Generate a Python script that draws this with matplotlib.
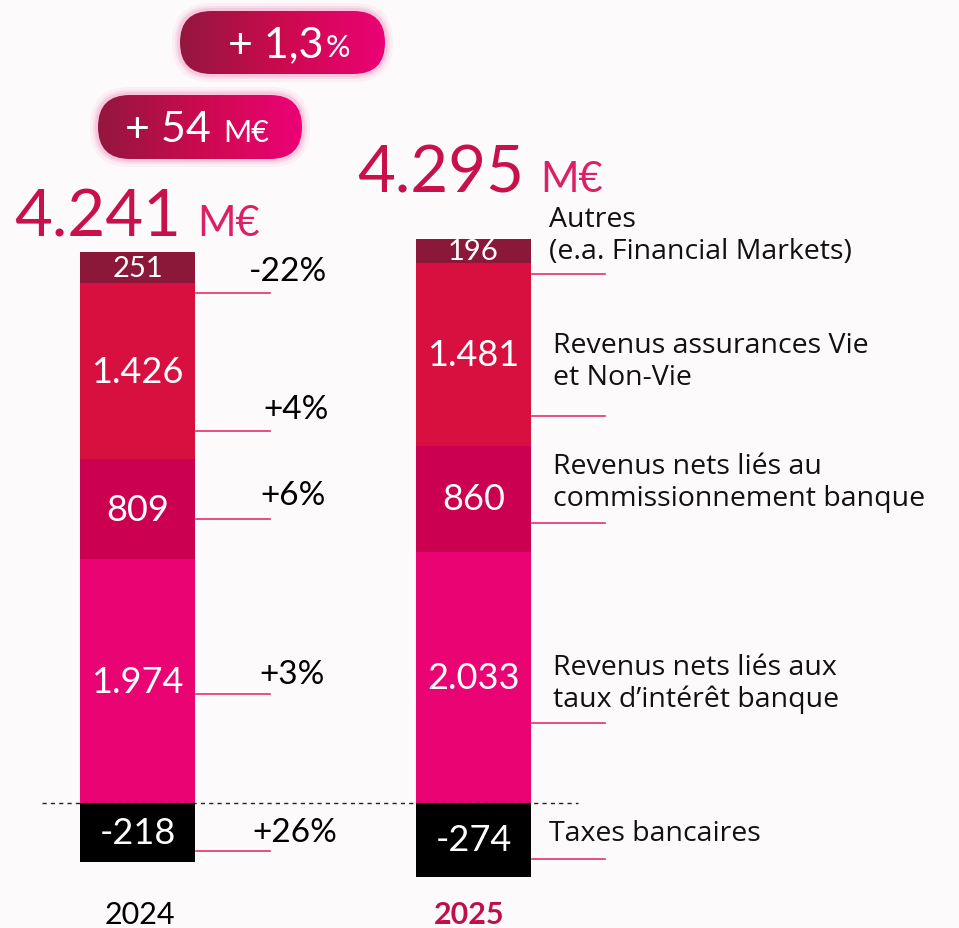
import numpy as np
import matplotlib
matplotlib.use('Agg')
import matplotlib.pyplot as plt
from matplotlib.patches import FancyBboxPatch

# data
years = ['2024', '2025']
# labels in stacking order (bottom to top)
segments = ["Revenus nets liés aux\ntaux d’intérêt banque",
            'Revenus nets liés au\ncommissionnement banque',
            'Revenus assurances Vie\net Non-Vie',
            'Autres\n(e.a. Financial Markets)']
interest = [1974, 2033]
commission = [809, 860]
insurance = [1426, 1481]
others = [251, 196]
bank_tax = [-218, -274]
totals = ['4.241', '4.295']
growth = ['+3%', '+6%', '+4%', '-22%']   # same order as stacking
tax_growth = '+26%'
tax_label = 'Taxes bancaires'
delta_abs = '+ 54'
delta_pct = '+ 1,3'

colors = ['#ea0473', '#cc0050', '#d81040', '#8b1838']
value_sizes = [26, 26, 26, 21]
BG = '#fcfafb'
LINE = '#e2306f'
FONT = 'Lato'
LABEL_FONT = 'Open Sans'

plt.rcParams['font.family'] = [FONT, 'DejaVu Sans']

W, H = 959, 929
fig = plt.figure(figsize=(W / 100, H / 100), dpi=100, facecolor=BG)

# layout (pixels)
x_bars = [137.5, 473.5]
bar_w = 115
zero_px = 804
top_px = 200
scale_pos = 0.1235     # px per unit for the revenues
bot_px = 890
scale_neg = 0.27       # px per unit for the bank tax block

ax = fig.add_axes([0, (H - zero_px) / H, 1, (zero_px - top_px) / H])
ax.set_xlim(0, W)
ax.set_ylim(0, (zero_px - top_px) / scale_pos)
ax.axis('off')

axn = fig.add_axes([0, (H - bot_px) / H, 1, (bot_px - zero_px) / H])
axn.set_xlim(0, W)
axn.set_ylim(-(bot_px - zero_px) / scale_neg, 0)
axn.axis('off')

stack = [interest, commission, insurance, others]
bottom = np.zeros(2)
for vals, col, fs in zip(stack, colors, value_sizes):
    v = np.array(vals, dtype=float)
    ax.bar(x_bars, v, width=bar_w, bottom=bottom, color=col, linewidth=0)
    for xi, b, val in zip(x_bars, bottom, v):
        txt = f'{int(val):,}'.replace(',', '.')
        ax.text(xi, b + val / 2, txt, ha='center', va='center', color='white',
                fontsize=fs)
    bottom += v

axn.bar(x_bars, bank_tax, width=bar_w, color='black', linewidth=0)
for xi, val in zip(x_bars, bank_tax):
    axn.text(xi, val / 2, str(val), ha='center', va='center', color='white',
             fontsize=26)
ax.plot([42, 578], [0, 0], color='#222222', lw=1, ls=(0, (3, 3)), zorder=5,
        clip_on=False)

# overlay in pixel coordinates
ov = fig.add_axes([0, 0, 1, 1], facecolor='none')
ov.set_xlim(0, W)
ov.set_ylim(H, 0)
ov.axis('off')

# connector lines + growth / labels
lines_2024 = [695, 520, 432, 294]
lines_2025 = [724, 524, 417, 275]
pct_pos = [(292, 675), (293, 496), (296, 410), (288, 272)]
lab_pos = [684, 483, 362, 236]
lab_x = [553, 553, 553, 549]
for y1, y2, (px, py), g, ly, lx, lab in zip(lines_2024, lines_2025, pct_pos,
                                            growth, lab_pos, lab_x, segments):
    ov.plot([196, 270], [y1, y1], color=LINE, lw=1.2)
    ov.plot([532, 605], [y2, y2], color=LINE, lw=1.2)
    ov.text(px, py, g, ha='center', va='center', fontsize=24, color='black')
    ov.text(lx, ly, lab, ha='left', va='center', fontsize=20.5,
            color='#111111', linespacing=1.15, family=[LABEL_FONT, 'DejaVu Sans'])
ov.plot([196, 270], [852, 852], color=LINE, lw=1.2)
ov.plot([532, 605], [860, 860], color=LINE, lw=1.2)
ov.text(295, 833, tax_growth, ha='center', va='center', fontsize=24)
ov.text(549, 834, tax_label, ha='left', va='center', fontsize=20.5,
        color='#111111', family=[LABEL_FONT, 'DejaVu Sans'])

fig.canvas.draw()
renderer = fig.canvas.get_renderer()


def run_text(x, y, parts, **kw):
    # write text pieces one after another on the same baseline
    inv = ov.transData.inverted()
    for s, size, gap, color in parts:
        t = ov.text(x + gap, y, s, ha='left', va='baseline', fontsize=size,
                    color=color, **kw)
        bb = t.get_window_extent(renderer)
        x = inv.transform((bb.x1, bb.y0))[0]


# totals
tot_pos = [(14, 236), (357, 192)]
for (x0, yb), t in zip(tot_pos, totals):
    run_text(x0, yb, [(t, 47, 0, '#c8104a'), ('M€', 30, 16, '#dc2068')])

# years
ov.text(140, 924, years[0], ha='center', va='baseline', fontsize=22,
        color='black')
ov.text(469, 924, years[1], ha='center', va='baseline', fontsize=22,
        color='#c0104a', fontweight='bold')

# pills with gradient
grad = np.linspace(0, 1, 256).reshape(1, -1)
cmap = matplotlib.colors.LinearSegmentedColormap.from_list(
    'pill', ['#93173f', '#cc0a4e', '#ec0276'])


def pill(x0, y0, w, h):
    for k, a in [(8, 0.08), (5, 0.12), (3, 0.18)]:
        ov.add_patch(FancyBboxPatch((x0 - k, y0 - k), w + 2 * k, h + 2 * k,
                                    boxstyle=f'round,pad=0,rounding_size={h / 2 + k}',
                                    fc='#f06aa6', ec='none', alpha=a))
    p = FancyBboxPatch((x0, y0), w, h,
                       boxstyle=f'round,pad=0,rounding_size={h / 2}',
                       fc='none', ec='none')
    ov.add_patch(p)
    im = ov.imshow(grad, cmap=cmap, extent=(x0, x0 + w, y0 + h, y0),
                   aspect='auto', zorder=3)
    im.set_clip_path(p)


pill(180, 12, 205, 63)
pill(98, 96, 204, 64)
ov.set_xlim(0, W)
ov.set_ylim(H, 0)

run_text(228, 57, [(delta_pct, 31, 0, 'white'), ('%', 22, 2, 'white')],
         zorder=4)
run_text(125, 142, [(delta_abs, 31, 0, 'white'), ('M€', 22, 12, 'white')],
         zorder=4)

fig.savefig('out.png', dpi=100, facecolor=BG)
